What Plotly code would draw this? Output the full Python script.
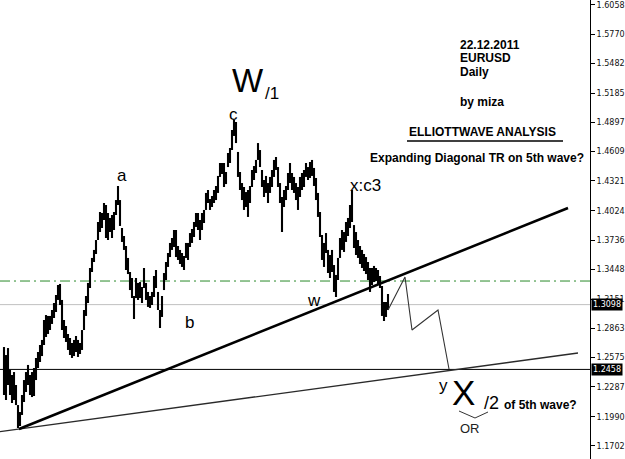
import plotly.graph_objects as go

# ---------------- data (EURUSD daily) ----------------
bar_high = [1.2679, 1.2600, 1.2669, 1.2452, 1.2403, 1.2432, 1.2304, 1.2106, 1.2037, 1.2205,
            1.2353, 1.2432, 1.2502, 1.2403, 1.2432, 1.2472, 1.2571, 1.2630, 1.2699, 1.2749,
            1.2946, 1.2995, 1.2986, 1.2986, 1.3045, 1.3114, 1.3193, 1.3292, 1.3302, 1.3144,
            1.2946, 1.2887, 1.2808, 1.2768, 1.2719, 1.2749, 1.2788, 1.2749, 1.2719, 1.2847,
            1.3045, 1.3183, 1.3312, 1.3460, 1.3559, 1.3638, 1.3736, 1.3914, 1.4013, 1.4003,
            1.4102, 1.4082, 1.4003, 1.3954, 1.3983, 1.4013, 1.4131, 1.4270, 1.4131, 1.3855,
            1.3776, 1.3677, 1.3559, 1.3420, 1.3361, 1.3183, 1.3361, 1.3312, 1.3321, 1.3272,
            1.3460, 1.3312, 1.3223, 1.3183, 1.3223, 1.3381, 1.3440, 1.3223, 1.3045, 1.3183,
            1.3410, 1.3519, 1.3608, 1.3707, 1.3756, 1.3835, 1.3835, 1.3677, 1.3638, 1.3608,
            1.3578, 1.3707, 1.3707, 1.3805, 1.3845, 1.3914, 1.4003, 1.4003, 1.3934, 1.4003,
            1.4033, 1.4201, 1.4230, 1.4141, 1.4171, 1.4230, 1.4270, 1.4369, 1.4497, 1.4497,
            1.4497, 1.4408, 1.4596, 1.4645, 1.4823, 1.4922, 1.4902, 1.4606, 1.4408, 1.4299,
            1.4260, 1.4210, 1.4230, 1.4270, 1.4428, 1.4467, 1.4527, 1.4694, 1.4625, 1.4428,
            1.4329, 1.4369, 1.4299, 1.4359, 1.4428, 1.4527, 1.4556, 1.4457, 1.4299, 1.4161,
            1.4230, 1.4270, 1.4398, 1.4497, 1.4398, 1.4359, 1.4299, 1.4260, 1.4359, 1.4398,
            1.4428, 1.4497, 1.4457, 1.4507, 1.4527, 1.4448, 1.4349, 1.4201, 1.4013, 1.3786,
            1.3707, 1.3805, 1.3638, 1.3588, 1.3638, 1.3489, 1.3391, 1.3559, 1.3756, 1.3835,
            1.3815, 1.3914, 1.3954, 1.4082, 1.4230, 1.3884, 1.3815, 1.3736, 1.3677, 1.3638,
            1.3598, 1.3568, 1.3519, 1.3460, 1.3460, 1.3480, 1.3460, 1.3440, 1.3381, 1.3282,
            1.3124, 1.3124, 1.3203]
bar_low = [1.2205, 1.2156, 1.2304, 1.2205, 1.2126, 1.2156, 1.2106, 1.1879, 1.1899, 1.2008,
           1.2136, 1.2235, 1.2304, 1.2205, 1.2185, 1.2195, 1.2353, 1.2472, 1.2531, 1.2590,
           1.2699, 1.2778, 1.2808, 1.2847, 1.2907, 1.2966, 1.3025, 1.3144, 1.3094, 1.2847,
           1.2768, 1.2729, 1.2650, 1.2600, 1.2571, 1.2590, 1.2630, 1.2581, 1.2610, 1.2650,
           1.2847, 1.2986, 1.3114, 1.3262, 1.3420, 1.3519, 1.3598, 1.3736, 1.3815, 1.3855,
           1.3934, 1.3756, 1.3736, 1.3815, 1.3756, 1.3835, 1.3983, 1.4082, 1.3875, 1.3717,
           1.3638, 1.3440, 1.3400, 1.3242, 1.3163, 1.2956, 1.3163, 1.3144, 1.3163, 1.3114,
           1.3262, 1.3144, 1.3075, 1.3065, 1.3094, 1.3173, 1.3262, 1.3045, 1.2867, 1.2976,
           1.3242, 1.3341, 1.3470, 1.3568, 1.3638, 1.3667, 1.3568, 1.3539, 1.3499, 1.3470,
           1.3440, 1.3559, 1.3539, 1.3667, 1.3707, 1.3766, 1.3865, 1.3835, 1.3736, 1.3835,
           1.3904, 1.4033, 1.4102, 1.4033, 1.4062, 1.4102, 1.4131, 1.4201, 1.4359, 1.4388,
           1.4260, 1.4289, 1.4457, 1.4497, 1.4625, 1.4764, 1.4694, 1.4359, 1.4230, 1.4131,
           1.4033, 1.4062, 1.3964, 1.4102, 1.4260, 1.4329, 1.4398, 1.4527, 1.4457, 1.4260,
           1.4161, 1.4201, 1.4102, 1.4201, 1.4260, 1.4359, 1.4428, 1.4260, 1.4102, 1.3815,
           1.4062, 1.4131, 1.4230, 1.4299, 1.4230, 1.4201, 1.4131, 1.4033, 1.4161, 1.4230,
           1.4260, 1.4359, 1.4329, 1.4349, 1.4369, 1.4270, 1.4131, 1.3964, 1.3766, 1.3539,
           1.3470, 1.3608, 1.3410, 1.3361, 1.3420, 1.3223, 1.3173, 1.3341, 1.3559, 1.3638,
           1.3618, 1.3717, 1.3776, 1.3855, 1.3914, 1.3657, 1.3588, 1.3559, 1.3499, 1.3460,
           1.3430, 1.3400, 1.3341, 1.3223, 1.3292, 1.3321, 1.3331, 1.3302, 1.3262, 1.2986,
           1.2936, 1.2976, 1.3045]

# trend lines (bar index, price)
trend_main_x = [7.5, 282]
trend_main_y = [1.1869, 1.4052]
trend_lower_x = [-2, 287]
trend_lower_y = [1.1844, 1.2620]
projection_x = [192, 200.5, 204, 217, 222.5]
projection_y = [1.3045, 1.3371, 1.2847, 1.3045, 1.2462]

level_green = 1.3331
level_current = 1.3098
level_target = 1.2458

y_ticks = [1.6058, 1.5770, 1.5482, 1.5185, 1.4897, 1.4609, 1.4321, 1.4024,
           1.3736, 1.3448, 1.3151, 1.2863, 1.2575, 1.2287, 1.1990, 1.1702]

# ---------------- figure ----------------
PW, PH = 590.0, 459.0


def px(x):
    return x / PW


def py(y):
    return 1 - y / PH


# price bars: one vertical high-low stroke per bar
bx, by = [], []
for i, (h, l) in enumerate(zip(bar_high, bar_low)):
    bx += [i, i, None]
    by += [l, h, None]

fig = go.Figure()
fig.add_trace(go.Scatter(x=bx, y=by, mode="lines",
                         line=dict(color="#000000", width=2.1),
                         hoverinfo="skip", showlegend=False))
fig.add_trace(go.Scatter(x=trend_lower_x, y=trend_lower_y, mode="lines",
                         line=dict(color="#2a2a2a", width=1.3),
                         hoverinfo="skip", showlegend=False))
fig.add_trace(go.Scatter(x=trend_main_x, y=trend_main_y, mode="lines",
                         line=dict(color="#000000", width=2.6),
                         hoverinfo="skip", showlegend=False))
fig.add_trace(go.Scatter(x=projection_x, y=projection_y, mode="lines",
                         line=dict(color="#333333", width=1.1),
                         hoverinfo="skip", showlegend=False))

shapes = [
    dict(type="line", xref="paper", x0=0, x1=1, yref="y", y0=level_green, y1=level_green,
         line=dict(color="#2a8a2a", width=1, dash="10px,4px,2px,4px"), layer="below"),
    dict(type="line", xref="paper", x0=0, x1=1, yref="y", y0=level_current, y1=level_current,
         line=dict(color="#c0c0c0", width=1), layer="below"),
    dict(type="line", xref="paper", x0=0, x1=1, yref="y", y0=level_target, y1=level_target,
         line=dict(color="#000000", width=1), layer="below"),
    # underline of the title
    dict(type="line", xref="paper", yref="paper", x0=px(407), x1=px(563), y0=py(141), y1=py(141),
         line=dict(color="#000000", width=1.5)),
    # OR bracket
    dict(type="line", xref="paper", yref="paper", x0=px(459), x1=px(475), y0=py(411), y1=py(418),
         line=dict(color="#333333", width=1)),
    dict(type="line", xref="paper", yref="paper", x0=px(475), x1=px(488), y0=py(418), y1=py(412),
         line=dict(color="#333333", width=1)),
]

FONT = "Liberation Sans, Arial, sans-serif"


def txt(text, x, y, size, bold=False, xanchor="left", color="#000000"):
    t = "<b>%s</b>" % text if bold else text
    return dict(text=t, xref="paper", yref="paper", x=px(x), y=py(y),
                xanchor=xanchor, yanchor="middle", showarrow=False,
                font=dict(family=FONT, size=size, color=color), borderpad=0)


annotations = [
    txt("22.12.2011", 459, 44.5, 12, True),
    txt("EURUSD", 459, 58.5, 12, True),
    txt("Daily", 459, 72.5, 12, True),
    txt("by miza", 459, 102.5, 12, True),
    txt("ELLIOTTWAVE ANALYSIS", 408, 132, 12, True),
    txt("Expanding Diagonal TR on 5th wave?", 369, 157.5, 12, True),
    txt("W", 231, 80.5, 33),
    txt("/1", 264, 94, 17),
    txt("c", 233, 115, 17, xanchor="center"),
    txt("a", 122, 175, 17, xanchor="center"),
    txt("b", 190, 322, 17, xanchor="center"),
    txt("x:c3", 349, 185, 17),
    txt("w", 314, 300, 17, xanchor="center"),
    txt("y", 443, 385, 17, xanchor="center"),
    txt("X", 451, 392.5, 35),
    txt("/2", 483, 403, 18),
    txt("of 5th wave?", 503, 404.5, 12, True),
    txt("OR", 470, 428, 13, xanchor="center", color="#222222"),
]

for val in (level_current, level_target):
    annotations.append(dict(text="%.4f" % val, xref="paper", yref="y", x=1.0, y=val,
                            xanchor="left", yanchor="middle", showarrow=False,
                            bgcolor="#000000", borderpad=1, xshift=1,
                            font=dict(family="DejaVu Sans, sans-serif", size=8, color="#ffffff")))

fig.update_layout(
    width=625, height=459, autosize=False,
    margin=dict(l=0, r=35, t=0, b=0, pad=0),
    paper_bgcolor="#ffffff", plot_bgcolor="#ffffff",
    shapes=shapes, annotations=annotations, showlegend=False,
    xaxis=dict(visible=False, range=[-2, 293], fixedrange=True),
    yaxis=dict(side="right", range=[1.1573, 1.6107], tickvals=y_ticks,
               ticktext=["%.4f" % v for v in y_ticks],
               ticks="outside", ticklen=4, tickcolor="#000000", tickwidth=1,
               showline=True, linecolor="#000000", linewidth=1, mirror=False,
               showgrid=False, zeroline=False, automargin=False,
               tickfont=dict(family="DejaVu Sans, sans-serif", size=8, color="#111111")),
)

fig.write_html("out.html")
